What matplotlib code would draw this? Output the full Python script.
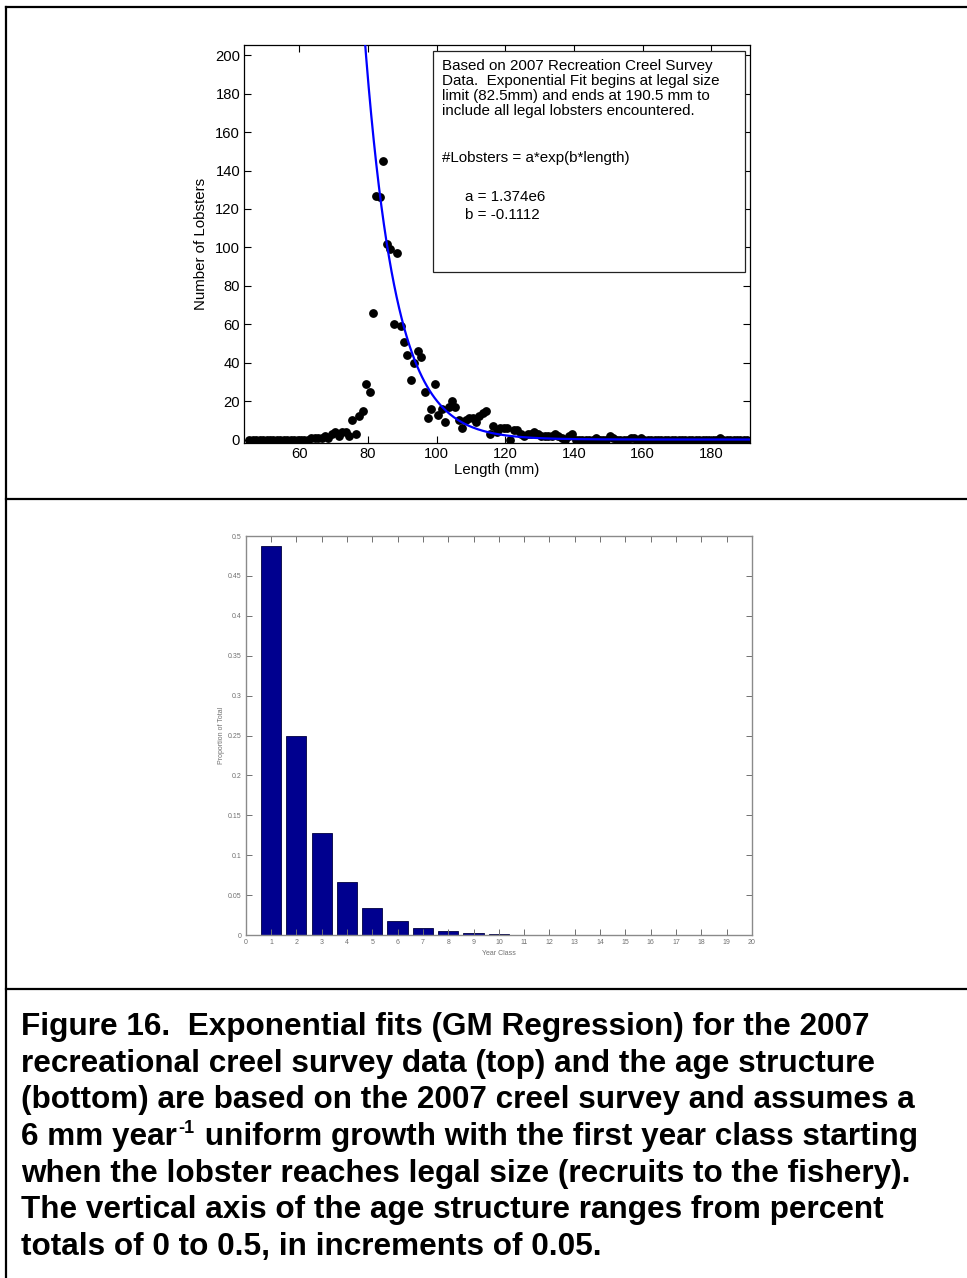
import matplotlib
matplotlib.use("Agg")
import matplotlib.pyplot as plt
from matplotlib.lines import Line2D
from matplotlib.patches import Rectangle
import numpy as np

plt.rcParams["font.family"] = ["Liberation Sans", "DejaVu Sans"]

W, H = 967, 1278

# --- top panel: creel survey length frequency (1 mm bins, centres from 45.5 mm)
FIRST_BIN = 45.5
COUNTS = [
    0, 0, 0, 0, 0, 0, 0, 0, 0, 0, 0, 0, 0, 0, 0, 0, 0, 0,          # 45.5-62.5
    1, 1, 1, 1, 2, 1, 3, 4, 2, 4, 4, 2, 10, 3, 12, 15, 29, 25,       # 63.5-80.5
    66, 127, 126, 145, 102, 99, 60, 97, 59, 51, 44, 31, 40, 46,      # 81.5-94.5
    43, 25, 11, 16, 29, 13, 16, 9, 17, 20, 17, 10, 6, 10, 11, 11,    # 95.5-110.5
    9, 12, 14, 15, 3, 7, 4, 6, 6, 6, 0, 5, 5, 3, 2, 3, 3, 4, 3, 2,   # 111.5-130.5
    2, 2, 2, 3, 2, 1, 0, 2, 3, 0,                                    # 131.5-140.5
    0, 0, 0, 0, 0, 1, 0, 0, 0, 2, 1, 0, 0, 0, 0, 1, 1, 0, 1, 0,      # 141.5-160.5
    0, 0, 0, 0, 0, 0, 0, 0, 0, 0, 0, 0, 0, 0, 0, 0, 0, 0, 0, 0,      # 161.5-180.5
    0, 1, 0, 0, 0, 0, 0, 0, 0, 0,                                    # 181.5-190.5
]
FIT_A, FIT_B = 1.374e6, -0.1112

# --- bottom panel: age structure (proportion of total per year class)
YEAR_CLASS = list(range(1, 19))
PROPORTION = [0.487, 0.250, 0.128, 0.066, 0.034, 0.017, 0.0087, 0.0045,
              0.0023, 0.0012, 0.0006, 0.0003, 0.00016, 0.00008, 0.00004,
              0.00002, 0.00001, 0.000005]

BOX_LINES = [
    ("Based on 2007 Recreation Creel Survey", 442, 70),
    ("Data.  Exponential Fit begins at legal size", 442, 85),
    ("limit (82.5mm) and ends at 190.5 mm to", 442, 100),
    ("include all legal lobsters encountered.", 442, 115),
    ("#Lobsters = a*exp(b*length)", 442, 162),
    ("a = 1.374e6", 465, 201),
    ("b = -0.1112", 465, 219),
]

CAPTION = [
    "Figure 16.  Exponential fits (GM Regression) for the 2007",
    "recreational creel survey data (top) and the age structure",
    "(bottom) are based on the 2007 creel survey and assumes a",
    ("6 mm year", "-1", " uniform growth with the first year class starting"),
    "when the lobster reaches legal size (recruits to the fishery).",
    "The vertical axis of the age structure ranges from percent",
    "totals of 0 to 0.5, in increments of 0.05.",
]


def fx(px):
    return px / W


def fy(py):
    return 1 - py / H


def axes_px(left, top, right, bottom):
    return [fx(left), fy(bottom), (right - left) / W, (bottom - top) / H]


fig = plt.figure(figsize=(W / 100, H / 100), dpi=100)
renderer = fig.canvas.get_renderer()

# outer frame and panel dividers
for (x0, y0, x1, y1) in [(6, 7, W, 7), (6, 7, 6, H), (6, 499, W, 499), (6, 989, W, 989)]:
    fig.add_artist(Line2D([fx(x0), fx(x1)], [fy(y0), fy(y1)], color="black", lw=1.6))

# ---------- top panel
ax = fig.add_axes(axes_px(244.3, 44.7, 750, 443))
lengths = FIRST_BIN + np.arange(len(COUNTS))
xs = np.linspace(44, 191.5, 400)
ax.plot(xs, FIT_A * np.exp(FIT_B * xs), color="#0000ff", lw=1.6, zorder=3)
ax.plot(lengths, COUNTS, "o", color="black", ms=5.3, zorder=2)
ax.set_xlim(44, 191.3)
ax.set_ylim(-1.8, 205.5)
ax.set_xticks(range(60, 181, 20))
ax.set_yticks(range(0, 201, 20))
ax.tick_params(direction="in", top=True, right=True, length=5, width=0.8,
               labelsize=10.6, pad=3)
for s in ax.spines.values():
    s.set_linewidth(0.9)
ax.set_xlabel("Length (mm)", fontsize=10.8, labelpad=1)
ax.set_ylabel("Number of Lobsters", fontsize=10.8, labelpad=5)

fig.add_artist(Rectangle((fx(433), fy(272)), (745 - 433) / W, (272 - 50.7) / H,
                         transform=fig.transFigure, facecolor="white",
                         edgecolor="#222222", lw=0.9, zorder=5))
for txt, px, py in BOX_LINES:
    fig.text(fx(px), fy(py), txt, fontsize=10.9, va="baseline", ha="left", zorder=6)

# ---------- bottom panel
grey = "#707070"
ax2 = fig.add_axes(axes_px(245.7, 536, 752, 935))
ax2.bar(YEAR_CLASS, PROPORTION, width=0.8, color="#00008f", edgecolor="#000040",
        lw=0.6)
ax2.set_xlim(0, 20)
ax2.set_ylim(0, 0.5)
ax2.set_xticks(range(0, 21))
ax2.set_yticks(np.round(np.arange(0, 0.51, 0.05), 2))
ax2.set_yticklabels(["0", "0.05", "0.1", "0.15", "0.2", "0.25", "0.3", "0.35",
                     "0.4", "0.45", "0.5"])
ax2.tick_params(direction="in", top=True, right=True, length=4, width=0.7,
                labelsize=5, colors=grey, pad=3)
for s in ax2.spines.values():
    s.set_color("#8a8a8a")
    s.set_linewidth(1.0)
ax2.set_xlabel("Year Class", fontsize=5, color=grey, labelpad=3)
ax2.set_ylabel("Proportion of Total", fontsize=5, color=grey, labelpad=2)

# ---------- caption
CAP_SIZE = 22.7
for i, line in enumerate(CAPTION):
    yb = 1035 + i * 36.67
    if isinstance(line, str):
        fig.text(fx(21), fy(yb), line, fontsize=CAP_SIZE, fontweight="bold",
                 va="baseline", ha="left")
        continue
    base, sup, rest = line
    t1 = fig.text(fx(21), fy(yb), base, fontsize=CAP_SIZE, fontweight="bold",
                  va="baseline", ha="left")
    x1 = t1.get_window_extent(renderer).x1
    t2 = fig.text((x1 + 1) / W, fy(yb - 12), sup, fontsize=13, fontweight="bold",
                  va="baseline", ha="left")
    x2 = t2.get_window_extent(renderer).x1
    fig.text((x2 + 2) / W, fy(yb), rest, fontsize=CAP_SIZE, fontweight="bold",
             va="baseline", ha="left")

fig.savefig("out.png", dpi=100)
